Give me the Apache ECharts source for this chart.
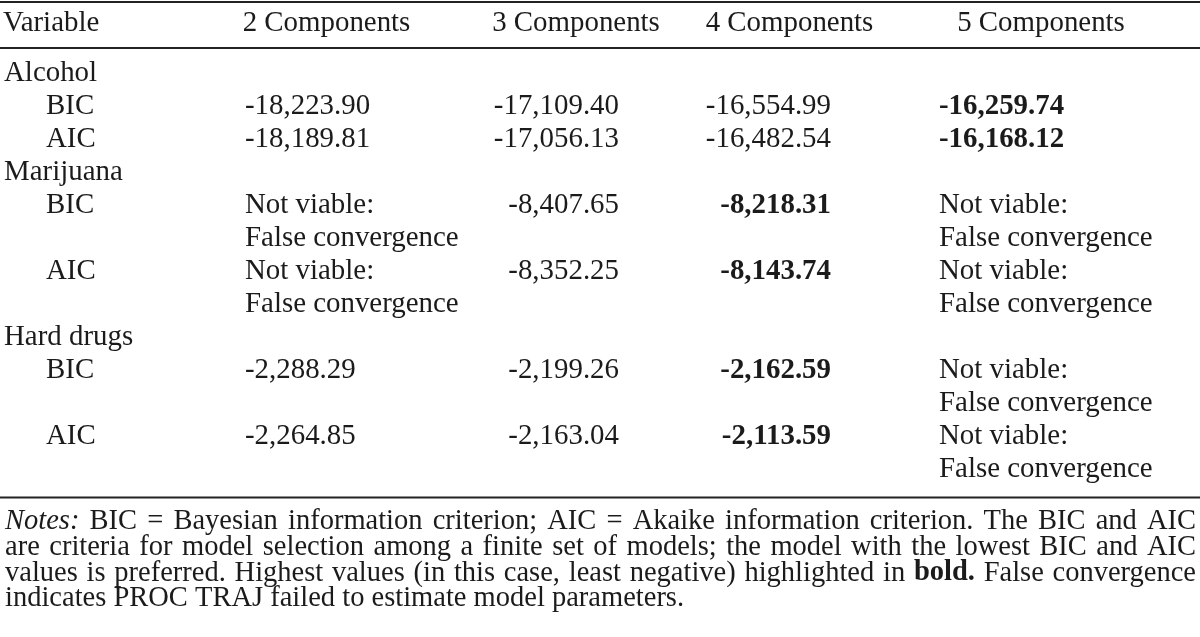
<!DOCTYPE html>
<html><head><meta charset="utf-8">
<script src="https://cdn.jsdelivr.net/npm/echarts@6/dist/echarts.min.js"></script>
<style>html,body{margin:0;padding:0;background:#fff}#c{width:1200px;height:637px}</style>
</head><body><div id="c"></div>
<script>
// ---------- data ----------
const columns = ['Variable', '2 Components', '3 Components', '4 Components', '5 Components'];
const groups = ['Alcohol', 'Marijuana', 'Hard drugs'];
const criteria = ['BIC', 'AIC'];
const alcoholBIC = [-18223.90, -17109.40, -16554.99, -16259.74];
const alcoholAIC = [-18189.81, -17056.13, -16482.54, -16168.12];
const marijuanaBIC = [null, -8407.65, -8218.31, null];
const marijuanaAIC = [null, -8352.25, -8143.74, null];
const hardBIC = [-2288.29, -2199.26, -2162.59, null];
const hardAIC = [-2264.85, -2163.04, -2113.59, null];
const groupValues = [[alcoholBIC, alcoholAIC], [marijuanaBIC, marijuanaAIC], [hardBIC, hardAIC]];
const notViableText = ['Not viable:', 'False convergence'];
const notesLines = [
  [['Notes:', 'italic'], [' BIC = Bayesian information criterion; AIC = Akaike information criterion. The BIC and AIC', 'normal']],
  [['are criteria for model selection among a finite set of models; the model with the lowest BIC and AIC', 'normal']],
  [['values is preferred. Highest values (in this case, least negative) highlighted in ', 'normal'], ['bold.', 'bold'], [' False convergence', 'normal']],
  [['indicates PROC TRAJ failed to estimate model parameters.', 'normal']]
];

// ---------- layout / style ----------
const FAMILY = 'Liberation Serif';
const SIZE = 28.9, SX = 1.0;
const NOTE_SIZE = 28.5, NOTE_SX = 1.0;
const INK = '#1b1b1b';
const HEADER_Y = 23.5, ROW0_Y = 73.8, PITCH = 33.0;
const GROUP_X = 4, SUB_X = 46;
const colX = [245, 619, 831, 939];
const colAlign = ['left', 'right', 'right', 'left'];
const headerX = [3, 326.5, 576, 789.5, 1041];
const headerAlign = ['left', 'center', 'center', 'center', 'center'];
const RULES = [{y: 2, w: 2.2}, {y: 48, w: 1.8}, {y: 497.5, w: 1.8}];
const NOTE_LEFT = 5, NOTE_RIGHT = 1196, NOTE_Y0 = 521.5, NOTE_PITCH = 25.8;

function fmt(v) {
  const s = Math.abs(v).toLocaleString('en-US', {minimumFractionDigits: 2, maximumFractionDigits: 2});
  return (v < 0 ? '-' : '') + s;
}
function cssFont(size, style, weight) {
  return style + ' ' + weight + ' ' + size + 'px "' + FAMILY + '"';
}
function textStyle(text, size, style, weight, align) {
  return {text: text, font: cssFont(size, style, weight), fill: INK,
    align: align, verticalAlign: 'middle', textAlign: align, textVerticalAlign: 'middle'};
}

// ---------- build cells ----------
const cells = [];
columns.forEach((c, i) => cells.push({x: headerX[i], y: HEADER_Y, text: c, bold: false, align: headerAlign[i]}));
let line = 0;
groups.forEach((g, gi) => {
  cells.push({x: GROUP_X, y: ROW0_Y + PITCH * line, text: g, bold: false, align: 'left'});
  line++;
  criteria.forEach((cr, ci) => {
    const vals = groupValues[gi][ci];
    const valid = vals.filter(v => v !== null);
    const best = Math.max.apply(null, valid);
    cells.push({x: SUB_X, y: ROW0_Y + PITCH * line, text: cr, bold: false, align: 'left'});
    let lines = 1;
    vals.forEach((v, k) => {
      if (v === null) {
        notViableText.forEach((t, ti) => cells.push({x: colX[k], y: ROW0_Y + PITCH * (line + ti), text: t, bold: false, align: colAlign[k]}));
        lines = 2;
      } else {
        cells.push({x: colX[k], y: ROW0_Y + PITCH * line, text: fmt(v), bold: v === best, align: colAlign[k]});
      }
    });
    line += lines;
  });
});

// ---------- notes (justified) ----------
const ctx = document.createElement('canvas').getContext('2d');
const noteEls = [];
notesLines.forEach((segs, li) => {
  const words = [];
  segs.forEach(([txt, st]) => {
    txt.split(' ').forEach(w => { if (w !== '') words.push({text: w, style: st}); });
  });
  words.forEach(w => {
    w.fs = w.style === 'italic' ? 'italic' : 'normal';
    w.fw = w.style === 'bold' ? 'bold' : 'normal';
    ctx.font = cssFont(NOTE_SIZE, w.fs, w.fw);
    w.width = ctx.measureText(w.text).width * NOTE_SX;
  });
  ctx.font = cssFont(NOTE_SIZE, 'normal', 'normal');
  const spaceW = ctx.measureText(' ').width * NOTE_SX;
  const total = words.reduce((a, w) => a + w.width, 0);
  const last = li === notesLines.length - 1;
  const gap = last ? spaceW : (NOTE_RIGHT - NOTE_LEFT - total) / (words.length - 1);
  let x = NOTE_LEFT;
  const y = NOTE_Y0 + NOTE_PITCH * li;
  words.forEach(w => {
    noteEls.push({type: 'text', x: x, y: y, scaleX: NOTE_SX, silent: true,
      style: textStyle(w.text, NOTE_SIZE, w.fs, w.fw, 'left')});
    x += w.width + gap;
  });
});
const ruleEls = RULES.map(r => ({type: 'line', silent: true, shape: {x1: 0, y1: r.y, x2: 1200, y2: r.y}, style: {stroke: '#222', lineWidth: r.w}}));

// ---------- chart ----------
const chart = echarts.init(document.getElementById('c'), null, {renderer: 'canvas'});
chart.setOption({
  animation: false,
  backgroundColor: '#fff',
  grid: {left: 0, right: 0, top: 0, bottom: 0},
  xAxis: {type: 'value', min: 0, max: 1200, show: false},
  yAxis: {type: 'value', min: 0, max: 637, inverse: true, show: false},
  graphic: ruleEls.concat(noteEls),
  series: [{
    type: 'custom',
    silent: true,
    clip: false,
    data: cells.map((c, i) => [c.x, c.y, i]),
    renderItem: function (params, api) {
      const c = cells[api.value(2)];
      const p = api.coord([api.value(0), api.value(1)]);
      return {
        type: 'text', x: p[0], y: p[1], scaleX: SX,
        style: textStyle(c.text, SIZE, 'normal', c.bold ? 'bold' : 'normal', c.align)
      };
    }
  }]
});
</script></body></html>
